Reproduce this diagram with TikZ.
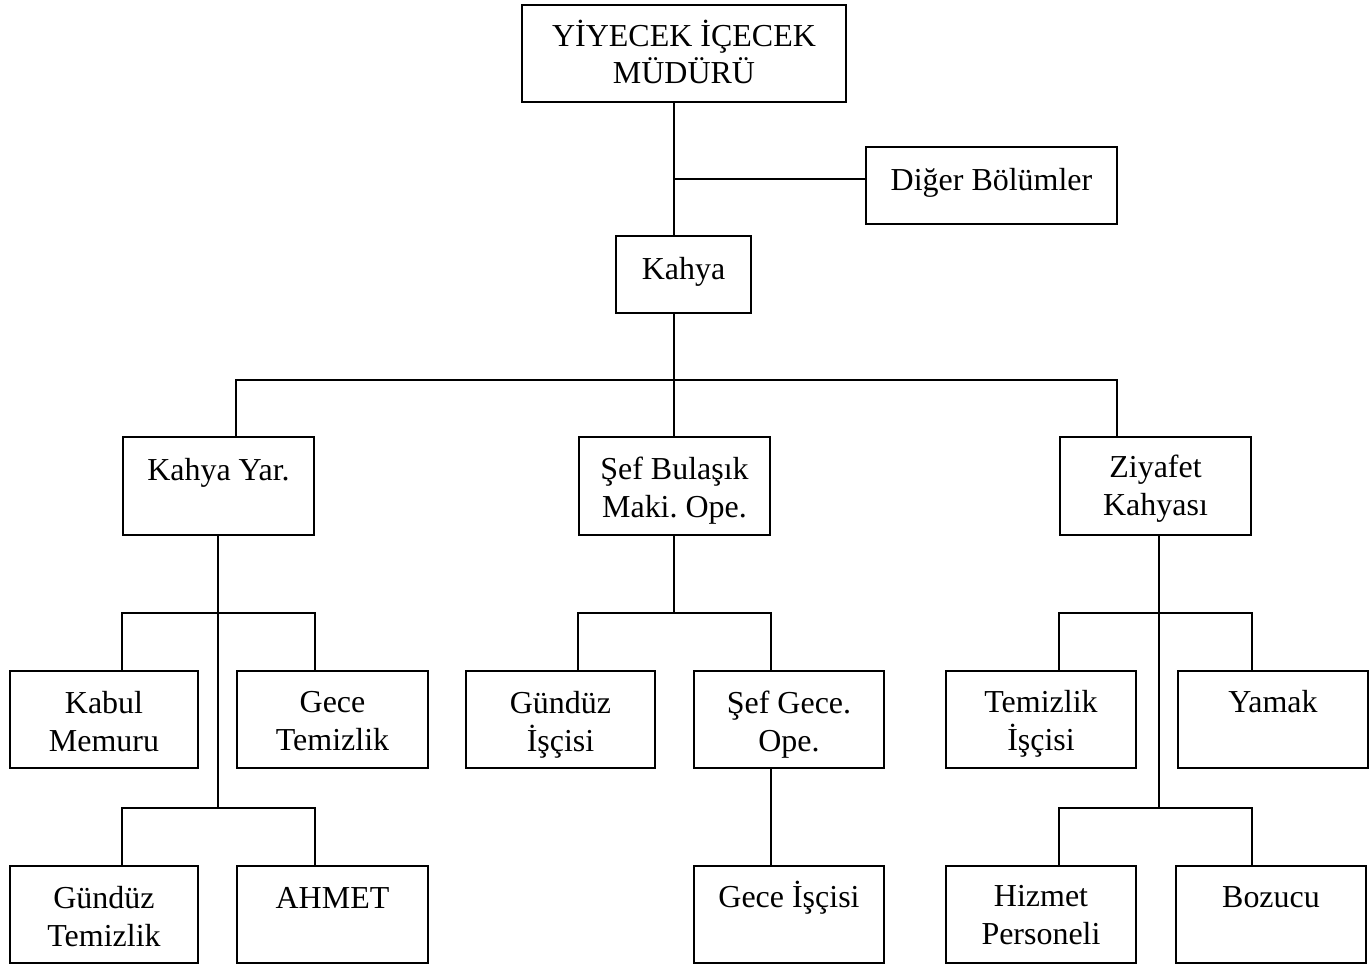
\documentclass[tikz,border=0pt]{standalone}
\usepackage{fontspec}
\setmainfont{Liberation Serif}
\usetikzlibrary{positioning}
\frenchspacing

\tikzset{
  box/.style={draw, line width=1.3pt, minimum height=1.94cm, minimum width=3.8cm, inner sep=0pt},
  txt/.style={align=center, inner sep=0pt, font={\fontsize{18.2}{21.5}\selectfont}, execute at begin node=\strut},
  link/.style={line width=1.2pt}
}

\begin{document}
\begin{tikzpicture}[x=0.02cm, y=-0.02cm]
  \useasboundingbox (0,0) rectangle (1370,969);
  % top levels
  \node[box, minimum width=6.48cm] (mudur) at (684,53.5) {};
  \node[txt, below=0.31cm of mudur.north] (mudurTxt) {YİYECEK İÇECEK\\MÜDÜRÜ};
  \node[box, minimum width=5.02cm, minimum height=1.54cm] (diger) at (991.5,185.5) {};
  \node[txt, below=0.35cm of diger.north] (digerTxt) {Diğer Bölümler};
  \node[box, minimum width=2.7cm, minimum height=1.54cm] (kahya) at (683.5,274.5) {};
  \node[txt, below=0.35cm of kahya.north] (kahyaTxt) {Kahya};
  % second level
  \node[box, minimum width=3.82cm, minimum height=1.96cm] (kahyaYar) at (218.5,486) {};
  \node[txt, below=0.36cm of kahyaYar.north] (kahyaYarTxt) {Kahya Yar.};
  \node[box, minimum width=3.82cm, minimum height=1.96cm] (sef) at (674.5,486) {};
  \node[txt, below=0.42cm of sef.north] (sefTxt) {Şef Bulaşık\\Maki. Ope.};
  \node[box, minimum width=3.82cm, minimum height=1.96cm] (ziyafet) at (1155.5,486) {};
  \node[txt, below=0.38cm of ziyafet.north] (ziyafetTxt) {Ziyafet\\Kahyası};
  % third level
  \node[box, minimum width=3.76cm] (kabul) at (104,719.5) {};
  \node[txt, below=0.42cm of kabul.north] (kabulTxt) {Kabul\\Memuru};
  \node[box, minimum width=3.82cm] (gece) at (332.5,719.5) {};
  \node[txt, below=0.42cm of gece.north] (geceTxt) {Gece\\Temizlik};
  \node[box, minimum width=3.78cm] (gunduzI) at (560.5,719.5) {};
  \node[txt, below=0.42cm of gunduzI.north] (gunduzITxt) {Gündüz\\İşçisi};
  \node[box] (sefGece) at (789,719.5) {};
  \node[txt, below=0.42cm of sefGece.north] (sefGeceTxt) {Şef Gece.\\Ope.};
  \node[box] (temizlik) at (1041,719.5) {};
  \node[txt, below=0.40cm of temizlik.north] (temizlikTxt) {Temizlik\\İşçisi};
  \node[box] (yamak) at (1273,719.5) {};
  \node[txt, below=0.31cm of yamak.north] (yamakTxt) {Yamak};
  % fourth level
  \node[box, minimum width=3.76cm] (gunduzT) at (104,914.5) {};
  \node[txt, below=0.42cm of gunduzT.north] (gunduzTTxt) {Gündüz\\Temizlik};
  \node[box, minimum width=3.82cm] (ahmet) at (332.5,914.5) {};
  \node[txt, below=0.33cm of ahmet.north] (ahmetTxt) {AHMET};
  \node[box] (geceIsci) at (789,914.5) {};
  \node[txt, below=0.31cm of geceIsci.north] (geceIsciTxt) {Gece İşçisi};
  \node[box] (hizmet) at (1041,914.5) {};
  \node[txt, below=0.40cm of hizmet.north] (hizmetTxt) {Hizmet\\Personeli};
  \node[box] (bozucu) at (1271,914.5) {};
  \node[txt, below=0.31cm of bozucu.north] (bozucuTxt) {Bozucu};

  % connectors
  \coordinate (spine) at (674,0);
  \coordinate (yarSpine) at (218,0);
  \coordinate (ziySpine) at (1159,0);
  \coordinate (side) at (674,179);
  \coordinate (leftDrop) at (236,380);
  \coordinate (rightDrop) at (1117,380);
  \coordinate (midBus) at (0,613);
  \coordinate (lowBus) at (0,808);
  \draw[link] (mudur.south -| spine) -- (kahya.north -| spine);
  \draw[link] (side) -- (side -| diger.west);
  \draw[link] (kahya.south -| spine) -- (sef.north -| spine);
  \draw[link] (kahyaYar.north -| leftDrop) -- (leftDrop) -- (rightDrop) -- (ziyafet.north -| rightDrop);

  \draw[link] (kahyaYar.south -| yarSpine) -- (lowBus -| yarSpine);
  \draw[link] (kahyaYar.west |- kabul.north) |- (kahyaYar.east |- midBus) -- (kahyaYar.east |- gece.north);
  \draw[link] (kahyaYar.west |- gunduzT.north) |- (kahyaYar.east |- lowBus) -- (kahyaYar.east |- ahmet.north);

  \draw[link] (sef.south -| spine) -- (midBus -| spine);
  \draw[link] (sef.west |- gunduzI.north) |- (sef.east |- midBus) -- (sef.east |- sefGece.north);
  \draw[link] (sefGece.south -| sef.east) -- (geceIsci.north -| sef.east);

  \draw[link] (ziyafet.south -| ziySpine) -- (lowBus -| ziySpine);
  \draw[link] (ziyafet.west |- temizlik.north) |- (ziyafet.east |- midBus) -- (ziyafet.east |- yamak.north);
  \draw[link] (ziyafet.west |- hizmet.north) |- (ziyafet.east |- lowBus) -- (ziyafet.east |- bozucu.north);
\end{tikzpicture}
\end{document}
